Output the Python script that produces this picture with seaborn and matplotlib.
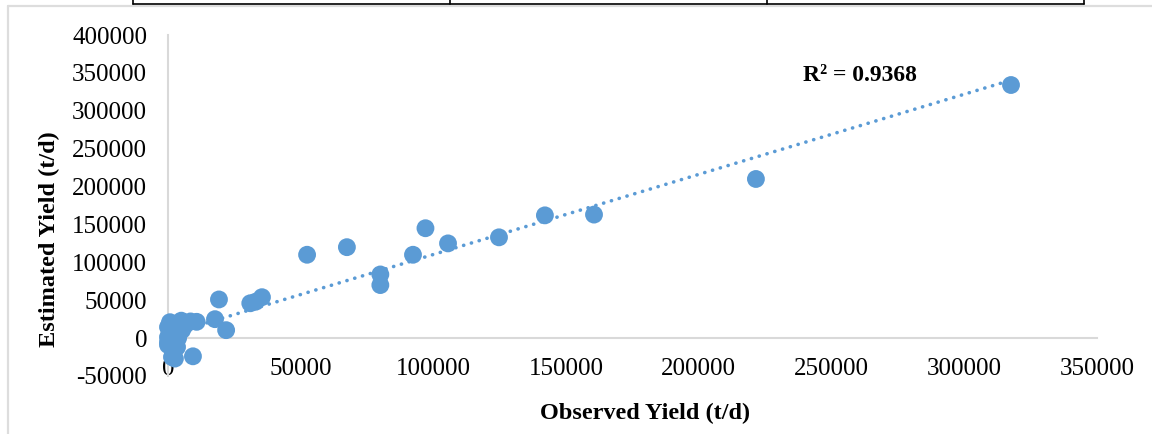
import matplotlib
matplotlib.use("Agg")
import matplotlib.pyplot as plt
from matplotlib.lines import Line2D
import numpy as np
import pandas as pd
import seaborn as sns

observed = [317600, 221500, 160500, 142000, 124700, 105500, 97000, 92300,
            80000, 80000, 67400, 52400, 35400, 33000, 31000, 19200, 17700,
            21900, 9400, 5000, 8500, 10800, 0, 750, 0, 3400, 1900, 3400,
            5300, 6400, 1500, 2600, 0, 0, 750, 3800, 2600]
estimated = [334000, 210000, 163000, 162000, 133000, 125000, 145000, 110000,
             84000, 70000, 120000, 110000, 54000, 48000, 46000, 51000, 25000,
             10500, -24000, 23000, 22000, 21500, 14500, 6600, -5300, -11800,
             -18400, 6600, 10500, 17000, -25000, -27000, 1300, -9000, 21000,
             0, 14500]
r2_text = "R² = 0.9368"
x_ticks = [0, 50000, 100000, 150000, 200000, 250000, 300000, 350000]
y_ticks = [-50000, 0, 50000, 100000, 150000, 200000, 250000, 300000, 350000, 400000]

df = pd.DataFrame({"observed": observed, "estimated": estimated})

sns.set_theme(style="white")
plt.rcParams["font.family"] = ["Liberation Serif", "DejaVu Serif"]
plt.rcParams["text.color"] = "black"

blue = "#5B9BD5"
axis_gray = "#D9D9D9"

fig = plt.figure(figsize=(11.52, 4.34), dpi=100)
ax = fig.add_axes([168 / 1152, 1 - 376 / 434, (1097 - 168) / 1152, (376 - 35) / 434])

sns.regplot(data=df, x="observed", y="estimated", ax=ax, scatter=False, ci=None,
            line_kws={"color": blue, "lw": 2.6, "linestyle": (0, (0.05, 2.2)),
                      "dash_capstyle": "round"})
sns.scatterplot(data=df, x="observed", y="estimated", ax=ax, s=165, color=blue,
                edgecolor="none", linewidth=0, zorder=3, clip_on=False)

ax.set_xlim(0, 350000)
ax.set_ylim(-50000, 400000)
ax.set_xticks(x_ticks)
ax.set_yticks(y_ticks)
ax.set_xticklabels([str(v) for v in x_ticks])
ax.set_yticklabels([str(v) for v in y_ticks])
ax.tick_params(axis="both", length=0, labelsize=18, colors="black")
ax.tick_params(axis="x", pad=14)
ax.tick_params(axis="y", pad=15)

for side in ["top", "right"]:
    ax.spines[side].set_visible(False)
ax.spines["bottom"].set_position(("data", 0))
ax.spines["bottom"].set_color(axis_gray)
ax.spines["bottom"].set_linewidth(1.5)
ax.spines["left"].set_color(axis_gray)
ax.spines["left"].set_linewidth(1.5)
ax.spines["left"].set_zorder(1)

ax.set_xlabel("Observed Yield (t/d)", fontsize=17.5, fontweight="bold", color="black")
ax.set_ylabel("Estimated Yield (t/d)", fontsize=17.5, fontweight="bold", color="black")
ax.xaxis.set_label_coords(0.513, -0.078)
ax.yaxis.set_label_coords(-0.116, 0.40)

ax.text(239300, 346000, r2_text, fontsize=17, fontweight="bold", va="center", ha="left",
        color="black")

# surrounding frame and table edge from the source page
fig.add_artist(Line2D([8 / 1152, 8 / 1152], [0, 1 - 6 / 434], transform=fig.transFigure,
                      color="#DDDDDD", lw=1.6))
fig.add_artist(Line2D([8 / 1152, 1], [1 - 6 / 434, 1 - 6 / 434], transform=fig.transFigure,
                      color="#DDDDDD", lw=1.6))
fig.add_artist(Line2D([133 / 1152, 1084 / 1152], [1 - 4 / 434, 1 - 4 / 434],
                      transform=fig.transFigure, color="black", lw=1.2))
for xp in [133, 450, 767, 1084]:
    fig.add_artist(Line2D([xp / 1152, xp / 1152], [1 - 4 / 434, 1], transform=fig.transFigure,
                          color="black", lw=1.2))

fig.savefig("out.png", dpi=100)
